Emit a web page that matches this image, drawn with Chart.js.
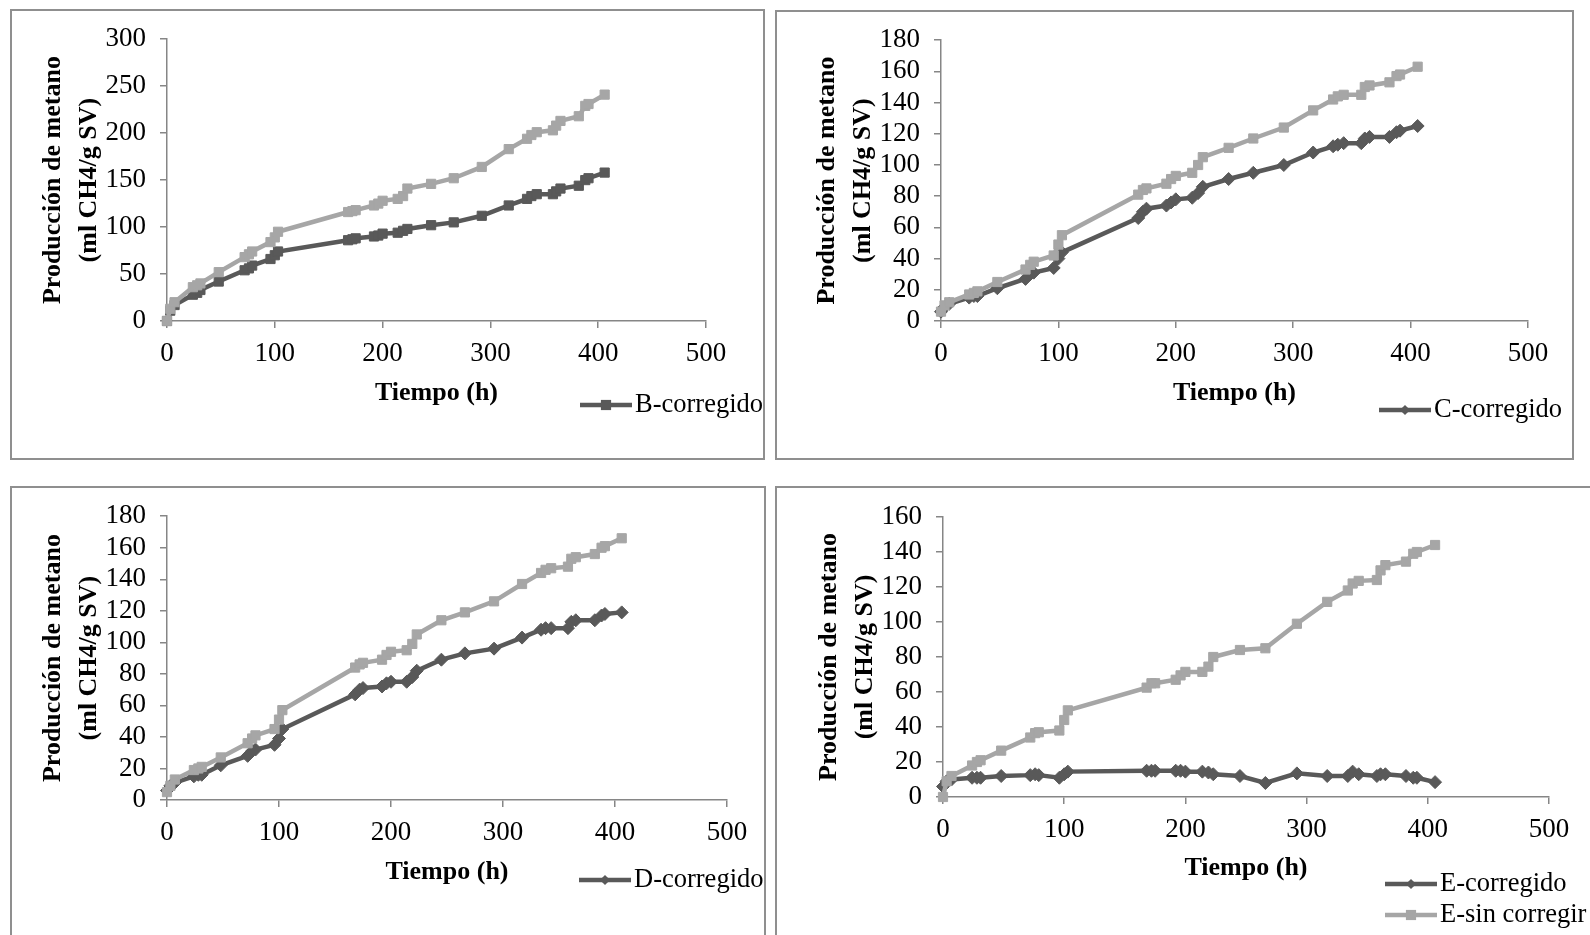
<!DOCTYPE html>
<html>
<head>
<meta charset="utf-8">
<title>Producción de metano</title>
<script src="https://cdn.jsdelivr.net/npm/chart.js@4.4.1/dist/chart.umd.min.js"></script>
<style>
  html, body { margin: 0; padding: 0; background: #fff; overflow: hidden; }
  body { width: 1590px; height: 935px; position: relative; }
  .panel { position: absolute; }
  .panel canvas { position: absolute; left: 0; top: 0; }
  .frame { position: absolute; left: 0; top: 0; right: 0; bottom: 0; border: 2px solid #8f8f8f; box-sizing: border-box; pointer-events: none; }
</style>
</head>
<body>
<div class="panel" id="panelB"><canvas></canvas><div class="frame"></div></div>
<div class="panel" id="panelC"><canvas></canvas><div class="frame"></div></div>
<div class="panel" id="panelD"><canvas></canvas><div class="frame"></div></div>
<div class="panel" id="panelE"><canvas></canvas><div class="frame"></div></div>
<script>
// sampling times (h), shared by every series
const hours = [0, 3, 7, 24, 28, 31, 48, 72, 76, 79, 96, 100, 103, 168, 172, 175, 192, 196, 200,
               214, 219, 223, 245, 266, 292, 317, 334, 338, 343, 358, 361, 365, 382, 388, 391, 406];

// ml CH4 / g SV
const bCorregido    = [0, 11, 17, 28, 30, 33, 42, 54, 56, 59, 66, 70, 74, 86, 87, 88, 90, 91, 93,
                       94, 96, 98, 102, 105, 112, 123, 130, 133, 135, 135, 138, 141, 144, 150, 152, 158];
const bSinCorregir  = [0, 13, 20, 36, 38, 40, 52, 68, 71, 74, 84, 89, 95, 116, 117, 118, 123, 125, 128,
                       130, 133, 141, 146, 152, 164, 183, 194, 198, 201, 203, 208, 213, 218, 229, 231, 241];
const cCorregido    = [6, 9, 11, 15, 16, 16, 21, 27, 30, 31, 34, 40, 44, 66, 70, 72, 74, 76, 78,
                       79, 82, 86, 91, 95, 100, 108, 112, 113, 114, 114, 117, 118, 118, 121, 122, 125];
const cSinCorregir  = [6, 10, 12, 17, 18, 19, 25, 33, 36, 38, 42, 49, 55, 81, 84, 85, 88, 91, 93,
                       95, 100, 105, 111, 117, 124, 135, 142, 144, 145, 145, 150, 151, 153, 157, 158, 163];
const dCorregido    = [6, 9, 11, 15, 16, 16, 22, 28, 31, 32, 35, 39, 45, 67, 70, 71, 72, 74, 75,
                       75, 78, 82, 89, 93, 96, 103, 108, 109, 109, 109, 113, 114, 114, 117, 118, 119];
const dSinCorregir  = [5, 9, 13, 19, 20, 21, 27, 36, 39, 41, 45, 51, 57, 84, 86, 87, 89, 92, 94,
                       95, 99, 105, 114, 119, 126, 137, 144, 146, 147, 148, 153, 154, 156, 160, 161, 166];
const eCorregido    = [6, 9, 10, 11, 11, 11, 12, 12.5, 13, 12.5, 11, 13, 14.5, 15, 15, 15, 15, 15, 14.5,
                       14.5, 14, 13, 12, 8, 13.5, 12, 12, 14.5, 13, 12, 13, 13, 12, 11, 11, 8.5];
const eSinCorregir  = [0, 9, 12, 18, 20, 21, 26.5, 34, 36.5, 37, 38, 44, 49.5, 62.5, 65, 65, 67, 69.5, 71.5,
                       71.5, 74.5, 80, 84, 85, 99, 111.5, 118, 122, 123.5, 124, 129.5, 132.5, 134.5, 139, 140, 144];

// axis ticks
const xTicks = [0, 100, 200, 300, 400, 500];
const yTicksB = [0, 50, 100, 150, 200, 250, 300];
const yTicksCD = [0, 20, 40, 60, 80, 100, 120, 140, 160, 180];
const yTicksE = [0, 20, 40, 60, 80, 100, 120, 140, 160];

const darkGrey = '#595959';
const lightGrey = '#a6a6a6';
const axisGrey = '#868686';
const serif = '"Liberation Serif", "Times New Roman", serif';

// Excel-style legend entry: short line with the marker on it, then the name
const cornerLegend = {
    id: 'cornerLegend',
    afterDraw(chart, args, opts) {
        const ctx = chart.ctx;
        (opts.items || []).forEach(item => {
            const ds = chart.data.datasets[item.index];
            const mid = item.x + 26;
            ctx.save();
            ctx.strokeStyle = ds.borderColor;
            ctx.lineWidth = ds.borderWidth;
            ctx.beginPath();
            ctx.moveTo(item.x, item.y);
            ctx.lineTo(item.x + 52, item.y);
            ctx.stroke();
            ctx.fillStyle = ds.borderColor;
            const s = ds.pointRadius * Math.SQRT1_2 + 0.5;
            ctx.beginPath();
            if (ds.pointStyle === 'rectRot') {
                ctx.moveTo(mid - s, item.y);
                ctx.lineTo(mid, item.y - s);
                ctx.lineTo(mid + s, item.y);
                ctx.lineTo(mid, item.y + s);
                ctx.closePath();
            } else {
                ctx.rect(mid - s, item.y - s, 2 * s, 2 * s);
            }
            ctx.fill();
            ctx.fillStyle = '#000';
            ctx.font = '26.5px ' + serif;
            ctx.textBaseline = 'middle';
            ctx.fillText(ds.label, item.x + 55, item.y);
            ctx.restore();
        });
    }
};

function makePanel(id, box, area, series, yTicks, titleY, legendItems) {
    const el = document.getElementById(id);
    const w = box.r - box.l, h = box.b - box.t;
    el.style.left = box.l + 'px';
    el.style.top = box.t + 'px';
    el.style.width = w + 'px';
    el.style.height = h + 'px';
    const canvas = el.querySelector('canvas');
    canvas.width = w;
    canvas.height = h;

    const tickFont = { family: serif, size: 27 };
    const titleFont = { family: serif, size: 26, weight: 'bold' };

    new Chart(canvas, {
        type: 'line',
        data: {
            datasets: series.map(s => ({
                label: s.label,
                data: hours.map((x, i) => ({ x: x, y: s.values[i] })),
                borderColor: s.color,
                backgroundColor: s.color,
                pointBackgroundColor: s.color,
                pointBorderColor: s.color,
                borderWidth: 4.5,
                pointRadius: 6.5,
                pointBorderWidth: 1,
                pointStyle: s.marker,
                tension: 0,
                clip: false,
                order: s.order
            }))
        },
        options: {
            responsive: false,
            animation: false,
            layout: { padding: { top: area.t - box.t, right: box.r - area.r, left: 0, bottom: 0 } },
            plugins: {
                legend: { display: false },
                tooltip: { enabled: false },
                cornerLegend: {
                    items: legendItems.map(it => ({ index: it.index, x: it.x - box.l, y: it.y - box.t }))
                }
            },
            scales: {
                x: {
                    type: 'linear',
                    min: xTicks[0],
                    max: xTicks[xTicks.length - 1],
                    afterBuildTicks: sc => { sc.ticks = xTicks.map(v => ({ value: v })); },
                    afterFit: sc => { sc.height = box.b - area.b; },
                    border: { color: axisGrey, width: 1.5 },
                    grid: { drawOnChartArea: false, color: axisGrey, lineWidth: 1.5, tickLength: 7 },
                    ticks: { color: '#000', font: tickFont, padding: 10, maxRotation: 0, autoSkip: false },
                    title: {
                        display: true, text: 'Tiempo (h)', color: '#000', font: titleFont,
                        padding: { top: 0, bottom: box.b - titleY - 15.6 }
                    }
                },
                y: {
                    min: yTicks[0],
                    max: yTicks[yTicks.length - 1],
                    afterBuildTicks: sc => { sc.ticks = yTicks.map(v => ({ value: v })); },
                    afterFit: sc => { sc.width = area.l - box.l; },
                    border: { color: axisGrey, width: 1.5 },
                    grid: { drawOnChartArea: false, color: axisGrey, lineWidth: 1.5, tickLength: 7 },
                    ticks: { color: '#000', font: tickFont, padding: 14, autoSkip: false },
                    title: {
                        display: true,
                        text: ['Producción de metano', '(ml CH4/g SV)'],
                        color: '#000',
                        font: Object.assign({}, titleFont, { lineHeight: '36px' }),
                        padding: { top: area.l - box.l - 113.5 - 18, bottom: 0 }
                    }
                }
            }
        },
        plugins: [cornerLegend]
    });
}

makePanel('panelB',
    { l: 10, t: 9, r: 765, b: 460 }, { l: 167, t: 38, r: 706, b: 321 },
    [
        { label: 'B-corregido', values: bCorregido, color: darkGrey, marker: 'rect', order: 1 },
        { label: 'B-sin corregir', values: bSinCorregir, color: lightGrey, marker: 'rect', order: 0 }
    ],
    yTicksB, 393, [{ index: 0, x: 580, y: 405 }]);

makePanel('panelC',
    { l: 775, t: 10, r: 1574, b: 460 }, { l: 941, t: 38, r: 1528, b: 321 },
    [
        { label: 'C-corregido', values: cCorregido, color: darkGrey, marker: 'rectRot', order: 1 },
        { label: 'C-sin corregir', values: cSinCorregir, color: lightGrey, marker: 'rect', order: 0 }
    ],
    yTicksCD, 393, [{ index: 0, x: 1379, y: 410 }]);

makePanel('panelD',
    { l: 10, t: 486, r: 766, b: 960 }, { l: 167, t: 515, r: 727, b: 800 },
    [
        { label: 'D-corregido', values: dCorregido, color: darkGrey, marker: 'rectRot', order: 1 },
        { label: 'D-sin corregir', values: dSinCorregir, color: lightGrey, marker: 'rect', order: 0 }
    ],
    yTicksCD, 872, [{ index: 0, x: 579, y: 880 }]);

makePanel('panelE',
    { l: 775, t: 486, r: 1620, b: 960 }, { l: 943, t: 517, r: 1549, b: 797 },
    [
        { label: 'E-corregido', values: eCorregido, color: darkGrey, marker: 'rectRot', order: 1 },
        { label: 'E-sin corregir', values: eSinCorregir, color: lightGrey, marker: 'rect', order: 0 }
    ],
    yTicksE, 868, [{ index: 0, x: 1385, y: 884 }, { index: 1, x: 1385, y: 915 }]);
</script>
</body>
</html>
